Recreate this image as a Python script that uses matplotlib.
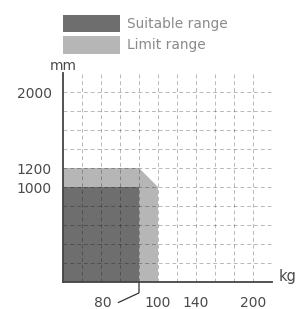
import matplotlib
matplotlib.use('Agg')
import matplotlib.pyplot as plt
from matplotlib.patches import Patch

# load (kg) vs. height (mm) ranges
suitable_x = [0, 80, 80, 0]
suitable_y = [0, 0, 1000, 1000]
limit_x = [0, 100, 100, 80, 0]
limit_y = [0, 0, 1000, 1200, 1200]

grid_x = [20, 40, 60, 80, 100, 120, 140, 160, 180, 200]
grid_y = [200, 400, 600, 800, 1000, 1200, 1400, 1600, 1800, 2000]
xticks = [100, 140, 200]
yticks = [1000, 1200, 2000]
leader_tick = 80

dark = '#6e6e6e'
light = '#b6b6b6'
txt = '#4a4a4a'

plt.rcParams['font.family'] = ['DejaVu Sans']

fig = plt.figure(figsize=(2.96, 3.09), dpi=100)
ax = fig.add_axes([63/296, 1-282/309, (272-63)/296, (282-73)/309])

ax.fill(limit_x, limit_y, color=light, lw=0, zorder=1)
ax.fill(suitable_x, suitable_y, color=dark, lw=0, zorder=2)

for gx in grid_x:
    ax.axvline(gx, color='k', alpha=0.28, lw=0.7, ls=(0, (4, 3)), zorder=3)
for gy in grid_y:
    ax.axhline(gy, color='k', alpha=0.28, lw=0.7, ls=(0, (4, 3)), zorder=3)

ax.set_xlim(0, 220)
ax.set_ylim(0, 2200)
for s in ['top', 'right']:
    ax.spines[s].set_visible(False)
for s in ['left', 'bottom']:
    ax.spines[s].set_color('#444444')
    ax.spines[s].set_linewidth(1.3)
    ax.spines[s].set_zorder(5)

ax.set_xticks(xticks)
ax.set_xticklabels([str(v) for v in xticks])
ax.set_yticks(yticks)
ax.set_yticklabels([str(v) for v in yticks])
ax.tick_params(axis='both', length=0, labelsize=10, labelcolor=txt)
ax.tick_params(axis='x', pad=10)
ax.tick_params(axis='y', pad=8)

ax.annotate(str(leader_tick), xy=(leader_tick, 0), xycoords='data',
            xytext=(-26, -15), textcoords='offset points',
            ha='center', va='center', fontsize=10, color=txt,
            annotation_clip=False,
            arrowprops=dict(arrowstyle='-', color='#333333', lw=0.9,
                            relpos=(1.0, 0.3), shrinkA=3, shrinkB=0,
                            connectionstyle='angle,angleA=25,angleB=90,rad=0'))

ax.text(0, 1.0, 'mm', transform=ax.transAxes, ha='center', va='bottom',
        fontsize=10, color=txt)
ax.text(1.03, 0.025, 'kg', transform=ax.transAxes, ha='left', va='center',
        fontsize=10.5, color=txt)

handles = [Patch(facecolor=dark, edgecolor='none', label='Suitable range'),
           Patch(facecolor=light, edgecolor='none', label='Limit range')]
fig.legend(handles=handles, loc='upper left', bbox_to_anchor=(63/296, 1-15/309),
           frameon=False, fontsize=9.9, labelcolor='#8a8a8a',
           handlelength=4.15, handleheight=1.55, handletextpad=0.5,
           labelspacing=0.3, borderpad=0, borderaxespad=0)

fig.savefig('out.png', dpi=100)
